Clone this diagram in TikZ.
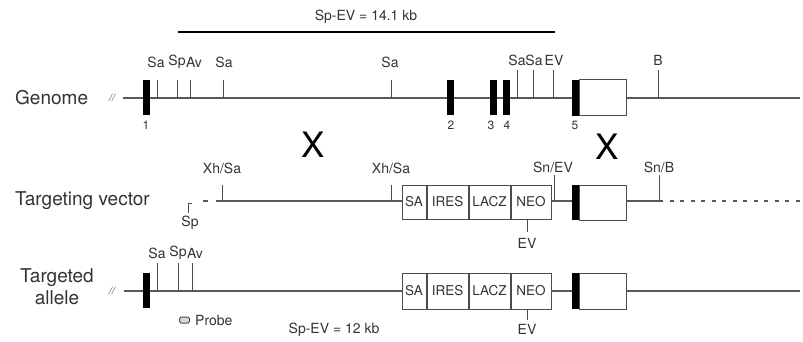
\documentclass[tikz,border=0pt]{standalone}
\usepackage{fontspec}
\setmainfont{TeX Gyre Heros}
\begin{document}
\begin{tikzpicture}[x=1pt,y=-1pt,
  dna/.style={draw=black!65, line width=1.1pt},
  tick/.style={draw=black!70, line width=1pt},
  exon/.style={fill=black, draw=none, inner sep=0pt},
  cas/.style={draw=black!70, line width=1pt, fill=white, inner sep=0pt},
  site/.style={font=\fontsize{14}{14}\selectfont, text=black!80, inner sep=0pt},
  rowlbl/.style={font=\fontsize{19}{22}\selectfont, text=black!80, inner sep=0pt},
  num/.style={font=\fontsize{12}{12}\selectfont, text=black!80, inner sep=0pt},
  bigx/.style={font=\fontsize{35}{35}\selectfont, inner sep=0pt},
  cell/.style={font=\fontsize{13.5}{14}\selectfont, text=black!80, inner sep=0pt},
  brk/.style={font=\fontsize{10}{10}\selectfont\itshape, text=black!70, inner sep=0pt}]
\useasboundingbox (0,0) rectangle (803,342);

% ---------- top bar ----------
\coordinate (barL) at (178,32);
\coordinate (barR) at (555,32);
\draw[line width=2.6pt] (barL) -- (barR);
\node[site] (barlbl) at (366,17) {Sp-EV = 14.1 kb};

% ---------- Genome ----------
\node[rowlbl, anchor=west] (genome) at (15,98) {Genome};
\node[brk] (gbrk) at (112,98) {//};
\coordinate (gL) at (123,98);
\coordinate (gR) at (800,98);
\draw[dna] (gL) -- (gR);
\foreach \x/\t/\lx in {157/Sa/156,177/Sp/177,190/Av/194,223/Sa/224,391/Sa/390}{
  \draw[tick] (\x,98) -- (\x,80);
  \node[site] at (\lx,62) {\t};
}
\foreach \x/\t/\lx in {517/Sa/517,533/Sa/534,553/EV/554,658/B/658}{
  \draw[tick] (\x,98) -- (\x,70);
  \node[site] at (\lx,60) {\t};
}
\node[exon, minimum width=7pt, minimum height=35pt] (ge1) at (146.5,97.5) {};
\node[exon, minimum width=7pt, minimum height=35pt] (ge2) at (450.5,97.5) {};
\node[exon, minimum width=7pt, minimum height=35pt] (ge3) at (493.5,97.5) {};
\node[exon, minimum width=7pt, minimum height=35pt] (ge4) at (506.5,97.5) {};
\node[cas, minimum width=47pt, minimum height=36pt] (g5w) at (602.5,98) {};
\node[exon, minimum width=7pt, minimum height=36pt] (ge5) at (575.5,98) {};
\node[num] at (146,125) {1};
\node[num] at (451,125) {2};
\node[num] at (491,125) {3};
\node[num] at (507,125) {4};
\node[num] at (575,125) {5};

\node[bigx] (x1) at (313,145) {X};
\node[bigx] (x2) at (607,147) {X};

% ---------- Targeting vector ----------
\node[rowlbl, anchor=west] (tv) at (15,201) {Targeting vector};
\draw[tick] (192,203) -- (188,203) -- (188,213);
\node[site] (tsp) at (190,223) {Sp};
\draw[dna] (203,201) -- (208,201);
\coordinate (tvL) at (216,201);
\foreach \x/\t in {222/Xh\slash Sa,391/Xh\slash Sa}{
  \draw[tick] (\x,201) -- (\x,185);
  \node[site] at (\x,168) {\t};
}
\draw[tick] (554,201) -- (554,175);
\node[site] at (553,167) {Sn/EV};
\draw[tick] (659,201) -- (659,175);
\node[site] at (659,167) {Sn/B};

\node[cas, cell, minimum width=24pt, minimum height=34pt] (tSA) at (414,202) {SA};
\node[cas, cell, minimum width=41pt, minimum height=34pt, anchor=west] (tIR) at (tSA.east) {IRES};
\node[cas, cell, minimum width=41pt, minimum height=34pt, anchor=west] (tLZ) at (tIR.east) {LACZ};
\node[cas, cell, minimum width=40pt, minimum height=34pt, anchor=west] (tNE) at (tLZ.east) {NEO};
\node[cas, minimum width=47pt, minimum height=35pt] (t5w) at (602.5,202.5) {};
\node[exon, minimum width=7pt, minimum height=35pt] (te5) at (575.5,202.5) {};
\coordinate (tvB) at (659,201);
\coordinate (tvR) at (800,201);
\draw[dna] (tvL) -- (tSA.west |- tvL);
\draw[dna] (tNE.east |- tvL) -- (te5.west |- tvL);
\draw[dna] (t5w.east |- tvL) -- (tvB);
\draw[dna, dash pattern=on 4pt off 6.5pt] (tvB) -- (tvR);
\draw[tick] (527,219) -- (527,232);
\node[site] at (527,243) {EV};

% ---------- Targeted allele ----------
\node[rowlbl, align=center] (ta) at (57,287) {Targeted\\allele};
\node[brk] (abrk) at (112,291) {//};
\coordinate (aL) at (124,291);
\coordinate (aR) at (800,291);
\foreach \x/\t/\lx in {157/Sa/157,178/Sp/178,192/Av/195}{
  \draw[tick] (\x,291) -- (\x,263);
  \node[site] at (\lx,253) {\t};
}
\node[cas, cell, minimum width=24pt, minimum height=36pt] (aSA) at (414,291) {SA};
\node[cas, cell, minimum width=41pt, minimum height=36pt, anchor=west] (aIR) at (aSA.east) {IRES};
\node[cas, cell, minimum width=41pt, minimum height=36pt, anchor=west] (aLZ) at (aIR.east) {LACZ};
\node[cas, cell, minimum width=40pt, minimum height=36pt, anchor=west] (aNE) at (aLZ.east) {NEO};
\node[cas, minimum width=47pt, minimum height=36pt] (a5w) at (602.5,291) {};
\node[exon, minimum width=7pt, minimum height=36pt] (ae5) at (575.5,291) {};
\draw[dna] (aL) -- (aSA.west |- aL);
\draw[dna] (aNE.east |- aL) -- (ae5.west |- aL);
\draw[dna] (a5w.east |- aL) -- (aR);
\node[exon, minimum width=7pt, minimum height=35pt] (ae1) at (146.5,290.5) {};
\draw[tick] (527,309) -- (527,320);
\node[site] at (527,329) {EV};

\node[draw=black!70, fill=black!15, line width=1pt, rounded corners=1.5pt, minimum width=10pt, minimum height=6pt, inner sep=0pt] (probe) at (184.5,320) {};
\node[site, anchor=west] (probelbl) at (195,320.5) {Probe};
\node[site] (allelelbl) at (334,330) {Sp-EV = 12 kb};
\end{tikzpicture}
\end{document}
